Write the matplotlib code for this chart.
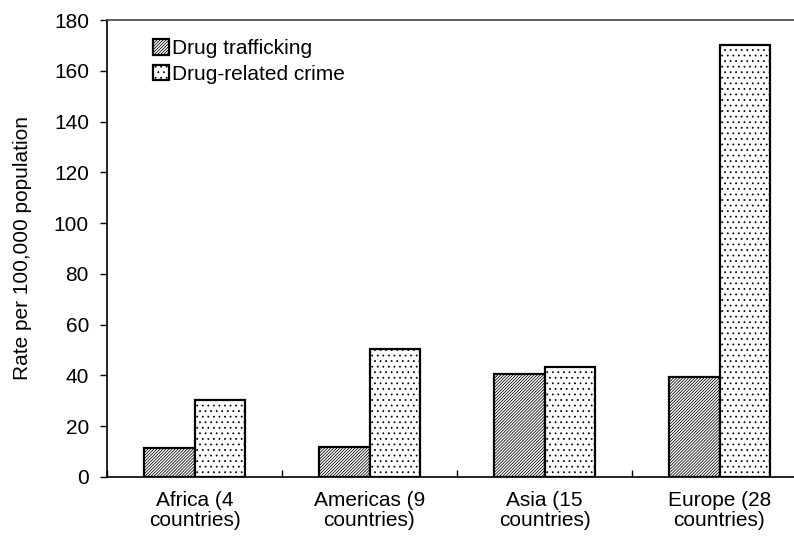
import numpy as np
import matplotlib.pyplot as plt

plt.rcParams['font.family'] = ['Liberation Sans', 'DejaVu Sans']
plt.rcParams['hatch.linewidth'] = 0.55

regions = ["Africa (4\ncountries)", "Americas (9\ncountries)",
           "Asia (15\ncountries)", "Europe (28\ncountries)"]
trafficking = [11.5, 12, 40.5, 39.5]
related_crime = [30.5, 50.5, 43.5, 170]

x = np.arange(len(regions))
w = 0.287
fs = 15

fig = plt.figure(figsize=(7.94, 5.45), dpi=100)
ax = fig.add_axes([107/794, 68/545, 700/794, 457/545])

ax.bar(x - w/2, trafficking, w, color='white', edgecolor='black',
       hatch='/'*11, linewidth=1.6, label='Drug trafficking')
ax.bar(x + w/2, related_crime, w, color='white', edgecolor='black',
       hatch='...', linewidth=1.6, label='Drug-related crime')

ax.set_xlim(-0.5, 3.5)
ax.set_ylim(0, 180)
ax.set_yticks(range(0, 181, 20))
ax.set_xticks(x)
ax.set_xticklabels(regions, fontsize=fs, linespacing=1.1)
ax.set_xticks(np.arange(-0.5, 4, 1), minor=True)
ax.tick_params(axis='x', which='major', length=0, pad=10)
ax.tick_params(axis='x', which='minor', length=5, direction='in', width=1)
ax.tick_params(axis='y', labelsize=fs, length=5, width=1, pad=8)
ax.set_ylabel('Rate per 100,000 population', fontsize=fs, labelpad=16)

for s in ['left', 'bottom']:
    ax.spines[s].set_linewidth(1.2)
ax.spines['top'].set_color('#444444')
ax.spines['top'].set_linewidth(1.2)
ax.spines['right'].set_visible(False)

ax.legend(loc='upper left', bbox_to_anchor=(0.048, 0.985), frameon=False,
          fontsize=fs, handlelength=0.75, handleheight=0.75,
          handletextpad=0.15, labelspacing=0.3, borderaxespad=0.2)

fig.savefig('out.png', dpi=100)
